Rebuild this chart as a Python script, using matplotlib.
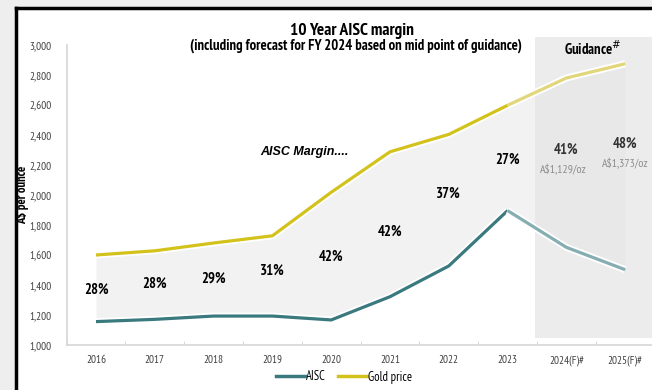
import matplotlib.pyplot as plt
import matplotlib.patches as mpatches
import matplotlib.patheffects as pe
from matplotlib.lines import Line2D

years = ['2016', '2017', '2018', '2019', '2020', '2021', '2022', '2023', '2024(F)#', '2025(F)#']
gold = [1600, 1628, 1680, 1728, 2018, 2288, 2404, 2598, 2780, 2875]
aisc = [1156, 1171, 1193, 1193, 1167, 1322, 1527, 1896, 1651, 1502]
margin_pct = ['28%', '28%', '29%', '31%', '42%', '42%', '37%', '27%', '41%', '48%']
label_y = [1367, 1407, 1440, 1493, 1587, 1753, 2007, 2233, 2300, 2340]
margin_oz = ['A$1,129/oz', 'A$1,373/oz']

plt.rcParams['font.family'] = ['PT Sans Narrow', 'Liberation Sans', 'DejaVu Sans']

W, H = 652, 390
fig = plt.figure(figsize=(W / 100, H / 100), dpi=100)
fig.patch.set_facecolor('white')

# grey surround and black frame
fig.patches.append(mpatches.Rectangle((0, 0), 15 / W, 1, transform=fig.transFigure,
                                      color='#eeeeee', zorder=0))
fig.patches.append(mpatches.Rectangle((0, 1 - 7 / H), 1, 7 / H, transform=fig.transFigure,
                                      color='#eeeeee', zorder=0))
fig.lines.append(Line2D([16 / W, 16 / W], [0, 1 - 8 / H], transform=fig.transFigure,
                        color='black', lw=2.5))
fig.lines.append(Line2D([16 / W, 1], [1 - 8 / H, 1 - 8 / H], transform=fig.transFigure,
                        color='black', lw=2.5))

ax = fig.add_axes([66.6 / W, 45 / H, 588 / W, 300 / H])
ax.set_facecolor('none')
x = list(range(len(years)))
ax.set_xlim(-0.5, 9.5)
ax.set_ylim(1000, 3000)

# guidance shading
ax.add_patch(mpatches.Rectangle((7.47, 1047), 2.3, 2006, facecolor='#ececec',
                                edgecolor='none', clip_on=False, zorder=0))
ax.fill_between(x, aisc, gold, color='#e6e6e6', alpha=0.5, lw=0, zorder=1)

glow = [pe.Stroke(linewidth=5, foreground='white'), pe.Normal()]
ax.plot(x[:8], gold[:8], color='#d4c21c', lw=2.3, zorder=3, path_effects=glow,
        solid_capstyle='butt')
ax.plot(x[7:], gold[7:], color='#e2d67a', lw=2.3, zorder=3, path_effects=glow,
        solid_capstyle='butt')
ax.plot(x[:8], aisc[:8], color='#3a7a7e', lw=2.3, zorder=3, path_effects=glow,
        solid_capstyle='butt')
ax.plot(x[7:], aisc[7:], color='#86adb0', lw=2.3, zorder=3, path_effects=glow,
        solid_capstyle='butt')

for i, (p, ly) in enumerate(zip(margin_pct, label_y)):
    ax.text(i, ly, p, ha='center', va='center', fontsize=10.5, fontweight='bold',
            color='#333333' if i >= 8 else 'black', zorder=4)
for i, s in zip([8, 9], margin_oz):
    ax.text(i - 0.05 if i == 8 else i, label_y[i] - 130, s, ha='center', va='center',
            fontsize=8.5, color='#8c8c8c', zorder=4)

ax.text(3.55, 2287, 'AISC Margin....', ha='center', va='center', fontsize=9,
        fontweight='bold', fontstyle='italic', family=['Liberation Sans'], zorder=4)
ax.text(8.45, 2973, 'Guidance$^{\\#}$', ha='center', va='center', fontsize=10.5,
        fontweight='bold', zorder=4)

fig.text(352 / W, 1 - 31 / H, '10 Year AISC margin', ha='center', va='center',
         fontsize=12.5, fontweight='bold')
fig.text(356 / W, 1 - 46 / H, '(including forecast for FY 2024 based on mid point of guidance)',
         ha='center', va='center', fontsize=10.5, fontweight='bold')

ax.set_ylabel('A$ per ounce', fontsize=9, fontweight='bold')
ax.yaxis.set_label_coords(-0.064, 0.5)

ax.set_yticks(range(1000, 3001, 200))
ax.set_yticklabels([f'{v:,}' for v in range(1000, 3001, 200)])
ax.set_xticks(x)
ax.set_xticklabels(years)
ax.set_xticks([i + 0.5 for i in range(-1, 10)], minor=True)
ax.tick_params(axis='both', which='major', length=0, labelsize=8, colors='#404040')
ax.tick_params(axis='x', which='major', pad=7)
ax.tick_params(axis='y', which='major', pad=11)
ax.tick_params(axis='x', which='minor', length=3, color='#d0d0d0', direction='in')
ax.tick_params(axis='y', which='minor', length=0)
for s in ['top', 'right']:
    ax.spines[s].set_visible(False)
for s in ['left', 'bottom']:
    ax.spines[s].set_color('#d6d6d6')
    ax.spines[s].set_linewidth(1.2)

handles = [Line2D([], [], color='#3a7a7e', lw=2.5), Line2D([], [], color='#d4c21c', lw=2.5)]
fig.legend(handles, ['AISC', 'Gold price'], loc='center', bbox_to_anchor=(344 / W, 1 - 377 / H),
           ncol=2, frameon=False, fontsize=9, handlelength=2.3, handletextpad=0.1,
           columnspacing=1.0)

fig.savefig('out.png', dpi=100)
